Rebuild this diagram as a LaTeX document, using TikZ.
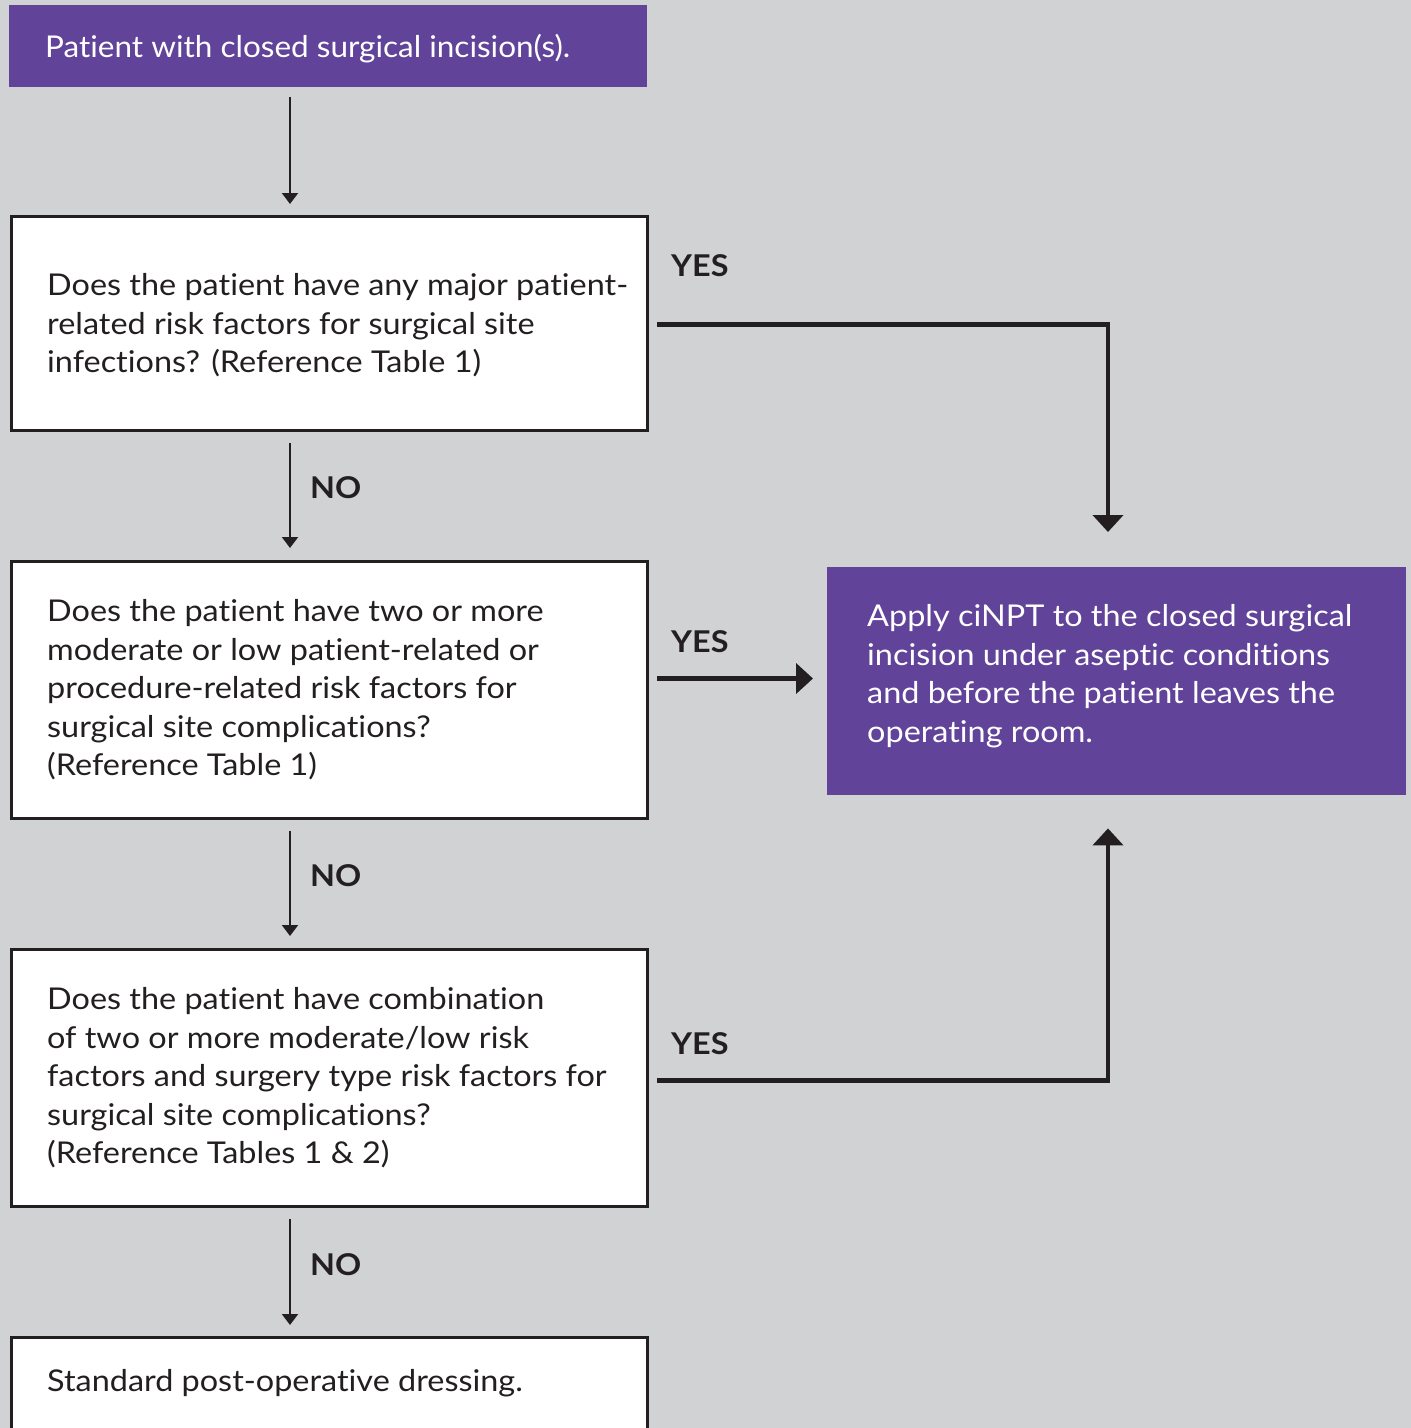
\documentclass[tikz,border=0pt]{standalone}
\usepackage{fontspec}
\setmainfont{Lato}[FakeStretch=1.08, Ligatures=NoCommon]
\newfontfamily\narrowfont{Lato}[FakeStretch=1.05, Ligatures=NoCommon]
\usetikzlibrary{arrows.meta}
\definecolor{bg}{HTML}{D1D2D4}
\definecolor{purp}{HTML}{61439A}
\definecolor{ink}{HTML}{231F20}
\begin{document}
\begin{tikzpicture}[x=1pt,y=-1pt,
  whitebox/.style={draw=ink, line width=3pt, fill=white, rectangle, inner sep=0pt, minimum width=636pt, anchor=north west},
  purplebox/.style={fill=purp, rectangle, inner sep=0pt, anchor=north west},
  txt/.style={text=ink, font=\fontsize{30}{38.5}\selectfont, align=left, inner sep=0pt, anchor=west},
  wtxt/.style={text=white, font=\fontsize{30}{38.5}\selectfont, align=left, inner sep=0pt, anchor=west},
  lbl/.style={text=ink, font=\fontsize{30}{34}\selectfont\bfseries, inner sep=0pt, anchor=west},
  thinarrow/.style={draw=ink, line width=2pt, -{Triangle[width=16pt,length=11pt]}},
  thickarrow/.style={draw=ink, line width=4.5pt, -{Triangle[width=30pt,length=17pt]}}
]
\path[use as bounding box, fill=bg] (0,0) rectangle (1411,1428);
\clip (0,0) rectangle (1411,1428);

% boxes
\node[purplebox, minimum width=638pt, minimum height=82pt] (b1) at (9,5) {};
\node[wtxt, anchor=west] (t1) at ([xshift=36pt,yshift=-2pt]b1.west) {\narrowfont Patient with closed surgical incision(s).};

\node[whitebox, minimum height=214pt] (b2) at (10,215) {};
\node[txt] (t2) at ([xshift=37pt,yshift=-2pt]b2.west) {Does the patient have any major patient-\\related risk factors for surgical site\\infections? (Reference Table 1)};

\node[whitebox, minimum height=257pt] (b3) at (10,560) {};
\node[txt] (t3) at ([xshift=37pt]b3.west) {Does the patient have two or more\\moderate or low patient-related or\\procedure-related risk factors for\\surgical site complications?\\(Reference Table 1)};

\node[whitebox, minimum height=257pt] (b4) at (10,948) {};
\node[txt] (t4) at ([xshift=37pt]b4.west) {Does the patient have combination\\of two or more moderate/low risk\\factors and surgery type risk factors for\\surgical site complications?\\(Reference Tables 1 \& 2)};

\node[whitebox, minimum height=120pt] (b5) at (10,1336) {};
\node[txt] (t5) at ([xshift=37pt,yshift=-47pt]b5.north west) {Standard post-operative dressing.};

\node[purplebox, minimum width=579pt, minimum height=228pt] (rb) at (827,567) {};
\node[wtxt] (t6) at ([xshift=40pt,yshift=5pt]rb.west) {Apply ciNPT to the closed surgical\\incision under aseptic conditions\\and before the patient leaves the\\operating room.};

% NO arrows
\draw[thinarrow] ([xshift=281pt,yshift=-10pt]b1.south west) -- ([xshift=280pt,yshift=11pt]b2.north west);
\draw[thinarrow] ([xshift=280pt,yshift=-11pt]b2.south west) -- ([xshift=280pt,yshift=12pt]b3.north west);
\draw[thinarrow] ([xshift=280pt,yshift=-11pt]b3.south west) -- ([xshift=280pt,yshift=12pt]b4.north west);
\draw[thinarrow] ([xshift=280pt,yshift=-11pt]b4.south west) -- ([xshift=280pt,yshift=11pt]b5.north west);

\node[lbl] (no1) at (310,488) {NO};
\node[lbl] (no2) at (310,876) {NO};
\node[lbl] (no3) at (310,1265) {NO};

% YES arrows
\coordinate (y1s) at ([xshift=8pt,yshift=-1pt]b2.east);
\coordinate (y1e) at ([xshift=281pt,yshift=35pt]rb.north west);
\draw[thickarrow] (y1s) -| (y1e);

\coordinate (y2s) at ([xshift=8pt,yshift=11.5pt]b3.east);
\coordinate (y2x) at ([xshift=-14pt]rb.west);
\draw[thickarrow] (y2s) -- (y2x |- y2s);

\coordinate (y3s) at ([xshift=8pt,yshift=-2.5pt]b4.east);
\coordinate (y3e) at ([xshift=281pt,yshift=-33pt]rb.south west);
\draw[thickarrow] (y3s) -| (y3e);

\node[lbl] (yes1) at (671,266) {YES};
\node[lbl] (yes2) at (671,642) {YES};
\node[lbl] (yes3) at (671,1044) {YES};
\end{tikzpicture}
\end{document}
